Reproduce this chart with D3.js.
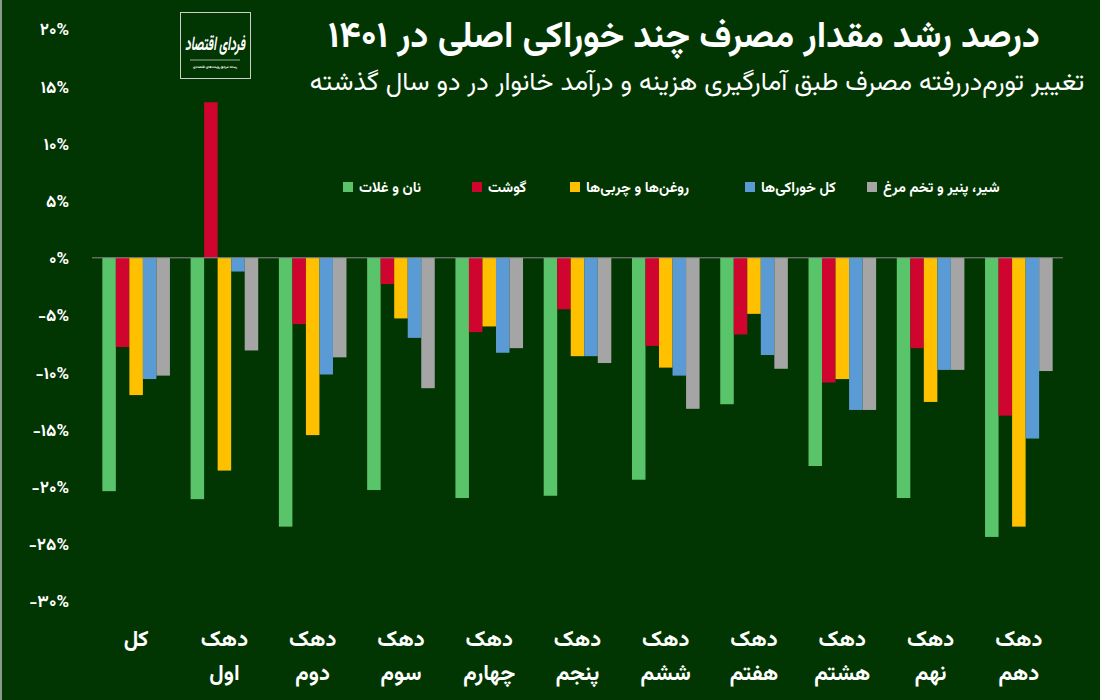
<!DOCTYPE html>
<html>
<head>
<meta charset="utf-8">
<script src="https://cdn.jsdelivr.net/npm/d3@7"></script>
<style>
  html, body { margin: 0; padding: 0; background: #013501; }
  svg { display: block; }
  text { font-family: "Vazirmatn", "Noto Sans Arabic", "DejaVu Sans", sans-serif; fill: #ffffff; }
</style>
</head>
<body>
<svg id="chart" width="1100" height="700"></svg>
<script>
// ---------- data ----------
const categories = ["کل", "دهک اول", "دهک دوم", "دهک سوم", "دهک چهارم", "دهک پنجم",
                    "دهک ششم", "دهک هفتم", "دهک هشتم", "دهک نهم", "دهک دهم"];
const seriesNames = ["نان و غلات", "گوشت", "روغن‌ها و چربی‌ها", "کل خوراکی‌ها", "شیر، پنیر و تخم مرغ"];
const seriesColors = ["#5ac46a", "#d0052f", "#ffc000", "#5b9bd5", "#a5a5a5"];
const bread = [-20.4, -21.1, -23.5, -20.3, -21.0, -20.8, -19.4, -12.8, -18.2, -21.0, -24.4];
const meat  = [-7.8, 13.6, -5.8, -2.3, -6.5, -4.5, -7.7, -6.7, -10.9, -7.9, -13.8];
const oil   = [-12.0, -18.6, -15.5, -5.3, -6.0, -8.6, -9.6, -4.9, -10.6, -12.6, -23.5];
const total = [-10.6, -1.2, -10.2, -7.0, -8.3, -8.6, -10.3, -8.5, -13.3, -9.8, -15.8];
const dairy = [-10.3, -8.1, -8.7, -11.4, -7.9, -9.2, -13.2, -9.7, -13.3, -9.8, -9.9];
const yTicks = [20, 15, 10, 5, 0, -5, -10, -15, -20, -25, -30];
const yTickLabels = ["۲۰%", "۱۵%", "۱۰%", "۵%", "۰%", "-۵%", "-۱۰%", "-۱۵%", "-۲۰%", "-۲۵%", "-۳۰%"];
const titleText = "درصد رشد مقدار مصرف چند خوراکی اصلی در ۱۴۰۱";
const subtitleText = "تغییر تورم‌دررفته مصرف طبق آمارگیری هزینه و درآمد خانوار در دو سال گذشته";
const logoText = "فردای اقتصاد";
const logoSub = "رسانه مرجع رویدادهای اقتصادی";

const seriesValues = [bread, meat, oil, total, dairy];
const rows = categories.map((c, i) => ({
  cat: c,
  vals: seriesNames.map((s, k) => ({ s, k, v: seriesValues[k][i] }))
}));

// ---------- setup ----------
const svg = d3.select("#chart");
svg.append("rect").attr("width", 1100).attr("height", 700).attr("fill", "#013501");
svg.append("rect").attr("x", 0).attr("y", 0).attr("width", 2).attr("height", 700).attr("fill", "#8a9a8a");

const x0 = d3.scaleBand().domain(categories).range([92, 1063]).padding(0);
const bw = x0.bandwidth();
const x1 = d3.scaleBand().domain(seriesNames).range([bw * 0.117, bw * 0.883]).padding(0);
const y = d3.scaleLinear().domain([-30, 20]).range([601, 29]);

function fit(sel, width) {
  const n = sel.node();
  const fs = parseFloat(sel.attr("font-size"));
  const w = n.getComputedTextLength();
  if (w > 0) sel.attr("font-size", fs * width / w);
}

// ---------- y axis labels ----------
const yAxis = d3.axisLeft(y).tickValues(yTicks)
  .tickFormat((d, i) => yTickLabels[i]).tickSize(0).tickPadding(0);
const yg = svg.append("g").attr("transform", "translate(69,0)").call(yAxis);
yg.select(".domain").remove();
yg.selectAll("text").attr("font-size", 17).attr("font-family", "Vazirmatn, 'Noto Sans Arabic', 'DejaVu Sans', sans-serif")
  .attr("fill", "#fff").attr("font-weight", "bold").attr("dy", "0.35em");

// ---------- bars ----------
const groups = svg.append("g").selectAll("g").data(rows).join("g")
  .attr("transform", d => `translate(${x0(d.cat)},0)`);
groups.selectAll("rect").data(d => d.vals).join("rect")
  .attr("x", d => x1(d.s))
  .attr("width", x1.bandwidth())
  .attr("y", d => Math.min(y(d.v), y(0)))
  .attr("height", d => Math.abs(y(d.v) - y(0)))
  .attr("fill", d => seriesColors[d.k]);

// zero line
svg.append("line").attr("x1", 92).attr("x2", 1063).attr("y1", y(0)).attr("y2", y(0))
  .attr("stroke", "#8c8c8c").attr("stroke-width", 1);

// ---------- x labels ----------
const xl = svg.append("g");
rows.forEach(r => {
  const parts = r.cat.split(" ");
  const cx = x0(r.cat) + bw / 2;
  parts.forEach((p, j) => {
    xl.append("text").attr("x", cx).attr("y", 646 + j * 34)
      .attr("text-anchor", "middle").attr("font-size", 22).attr("font-weight", "bold")
      .text(p);
  });
});

// ---------- legend ----------
const legendX = [343, 472, 570, 745, 867];
const lg = svg.append("g");
seriesNames.forEach((s, k) => {
  lg.append("rect").attr("x", legendX[k]).attr("y", 182).attr("width", 10).attr("height", 10)
    .attr("fill", seriesColors[k]);
  lg.append("text").attr("x", legendX[k] + 16).attr("y", 192)
    .attr("text-anchor", "start").attr("font-size", 14.5).attr("font-weight", "bold").text(s);
});

// ---------- titles ----------
const tt = svg.append("text").attr("x", 684).attr("y", 47).attr("text-anchor", "middle")
  .attr("font-size", 30).attr("font-weight", "bold").text(titleText);
fit(tt, 712);
const st = svg.append("text").attr("x", 697).attr("y", 90).attr("text-anchor", "middle")
  .attr("font-size", 20).text(subtitleText);
fit(st, 775);

// ---------- logo ----------
const logo = svg.append("g");
logo.append("rect").attr("x", 180.5).attr("y", 12.5).attr("width", 70).attr("height", 66)
  .attr("fill", "none").attr("stroke", "#c8d0c8").attr("stroke-width", 1);
const ltg = logo.append("g").attr("transform", "translate(215,50) scale(1,1.7)");
const lt = ltg.append("text").attr("x", 0).attr("y", 0).attr("text-anchor", "middle")
  .attr("font-size", 22).attr("font-weight", "bold").attr("font-style", "italic").text(logoText);
fit(lt, 60);
logo.append("line").attr("x1", 190).attr("x2", 240).attr("y1", 60).attr("y2", 60)
  .attr("stroke", "#ffffff").attr("stroke-width", 0.6);
const ls = logo.append("text").attr("x", 215).attr("y", 68).attr("text-anchor", "middle")
  .attr("font-size", 5).attr("font-weight", "bold").text(logoSub);
fit(ls, 44);
</script>
</body>
</html>
